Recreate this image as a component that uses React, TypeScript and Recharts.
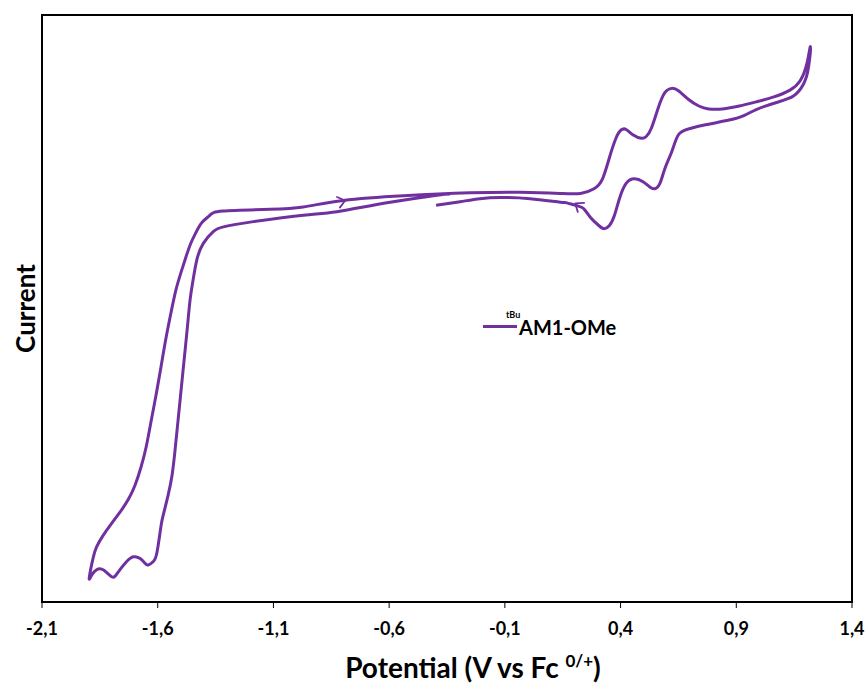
import React from 'react';
import { ComposedChart, Line, Scatter, XAxis, YAxis, ReferenceArea, Legend } from 'recharts';

const W = 866;
const H = 686;
const PURPLE = '#7030A0';
const FONT = "Lato, 'Open Sans', sans-serif";

const xTicks = [-2.1, -1.6, -1.1, -0.6, -0.1, 0.4, 0.9, 1.4];
const xTickLabels = ['-2,1', '-1,6', '-1,1', '-0,6', '-0,1', '0,4', '0,9', '1,4'];

// sweep 1: from rest potential towards negative, down to the vertex
const sweep1E = [-0.336, -0.394, -0.61, -0.826, -0.971, -1.187, -1.316, -1.36, -1.403, -1.431, -1.447, -1.46, -1.473, -1.486, -1.499, -1.512, -1.525, -1.538, -1.555, -1.573, -1.583, -1.59, -1.604, -1.619, -1.641, -1.655, -1.676, -1.705, -1.734, -1.763, -1.784, -1.799, -1.82, -1.842, -1.864, -1.885, -1.896];
const sweep1I = [69.5, 69.3, 68.0, 66.5, 65.9, 64.8, 63.9, 63.1, 61.1, 58.3, 54.9, 51.5, 46.3, 41.2, 36.1, 31.0, 25.9, 21.6, 18.2, 15.3, 13.6, 11.8, 8.3, 6.9, 6.3, 6.6, 7.4, 7.7, 6.9, 5.5, 4.4, 4.3, 5.0, 5.6, 5.5, 4.6, 3.9];

// sweep 2: back up from the negative vertex to +1.22 V
const sweep2E = [-1.89, -1.878, -1.864, -1.835, -1.799, -1.763, -1.728, -1.698, -1.672, -1.65, -1.629, -1.607, -1.586, -1.564, -1.542, -1.521, -1.499, -1.477, -1.456, -1.434, -1.408, -1.374, -1.318, -1.114, -0.971, -0.798, -0.538, -0.25, -0.034, 0.139, 0.227, 0.285, 0.322, 0.351, 0.38, 0.402, 0.424, 0.453, 0.49, 0.511, 0.533, 0.563, 0.592, 0.621, 0.65, 0.694, 0.738, 0.781, 0.84, 0.913, 0.986, 1.059, 1.132, 1.176, 1.205, 1.22];
const sweep2I = [5.5, 7.7, 9.4, 11.4, 13.4, 15.3, 17.4, 19.9, 23.0, 26.4, 30.7, 35.3, 40.0, 45.0, 49.4, 53.2, 56.2, 58.9, 61.2, 63.0, 64.7, 65.9, 66.6, 66.9, 67.3, 68.4, 69.2, 69.7, 69.8, 69.6, 69.6, 70.4, 72.1, 75.6, 79.0, 80.4, 80.5, 79.6, 79.0, 79.3, 80.7, 84.2, 86.8, 87.5, 87.1, 85.6, 84.5, 84.0, 84.0, 84.5, 85.2, 86.0, 87.2, 88.8, 91.7, 94.6];

// sweep 3: reverse from +1.22 V back to -0.4 V
const sweep3E = [1.212, 1.19, 1.147, 1.074, 0.986, 0.935, 0.869, 0.767, 0.694, 0.65, 0.621, 0.592, 0.57, 0.548, 0.526, 0.497, 0.46, 0.424, 0.395, 0.373, 0.351, 0.329, 0.307, 0.27, 0.241, 0.212, 0.168, 0.139, 0.009, -0.12, -0.207, -0.293, -0.397];
const sweep3I = [91.1, 88.2, 86.2, 85.1, 83.9, 82.9, 82.1, 81.3, 80.6, 79.6, 76.7, 73.9, 71.3, 70.4, 70.7, 71.6, 72.1, 71.3, 68.7, 65.8, 64.1, 63.6, 64.1, 65.5, 67.0, 67.5, 68.0, 68.1, 68.7, 68.9, 68.7, 68.2, 67.6];

// scan direction marks
const arrowE = [-0.79, 0.204];
const arrowI = [68.4, 67.9];
const arrowDir = [1, -1];

const cvData = [
  ...sweep1E.map((e, k) => ({ e, i: sweep1I[k] })),
  ...sweep2E.map((e, k) => ({ e, i: sweep2I[k] })),
  ...sweep3E.map((e, k) => ({ e, i: sweep3I[k] })),
];

const arrowData = arrowE.map((e, k) => ({ e, i: arrowI[k], dir: arrowDir[k] }));

const fmtTick = (v: number) => {
  const k = xTicks.findIndex((t) => Math.abs(t - v) < 1e-6);
  return k >= 0 ? xTickLabels[k] : String(v);
};

function ArrowHead(props: any) {
  const { cx, cy, payload } = props;
  if (cx == null || cy == null) return null;
  const angle = payload.dir > 0 ? -15 : 215;
  return (
    <path
      d="M -7 -5.5 L 0 0 L -7 5.5"
      transform={`translate(${cx},${cy}) rotate(${angle})`}
      fill="none"
      stroke={PURPLE}
      strokeWidth={1.8}
      strokeLinecap="round"
      strokeLinejoin="round"
    />
  );
}

// both axis titles, drawn from the x axis box (plot top is the chart's top margin)
function AxisTitles(props: any) {
  const { viewBox } = props;
  const cx = viewBox.x + viewBox.width / 2 + 26;
  const yx = viewBox.x - 17;
  const yy = (15 + viewBox.y) / 2;
  return (
    <g>
      <text x={cx} y={viewBox.y + 76} textAnchor="middle" fontFamily={FONT} fontWeight={700} fontSize={28} fill="#000">
        {'Potential (V vs Fc '}
        <tspan fontSize={17} dy={-11}>0/+</tspan>
        <tspan dy={11}>)</tspan>
      </text>
      <text
        x={yx}
        y={yy}
        transform={`rotate(-90, ${yx}, ${yy})`}
        textAnchor="middle"
        dominantBaseline="central"
        fontFamily={FONT}
        fontWeight={700}
        fontSize={26}
        fill="#000"
      >
        Current
      </text>
    </g>
  );
}

const renderLegend = () => (
  <div style={{ position: 'relative', width: 160, height: 36, fontFamily: FONT, color: '#000' }}>
    <div style={{ position: 'absolute', left: 13, top: 20, width: 34, height: 3, background: PURPLE }} />
    <span style={{ position: 'absolute', left: 36, top: 5, fontSize: 9, fontWeight: 700, lineHeight: 1 }}>tBu</span>
    <span style={{ position: 'absolute', left: 49, top: 12, fontSize: 20, fontWeight: 700, lineHeight: 1 }}>AM1-OMe</span>
  </div>
);

export default function App() {
  return (
    <div style={{ position: 'absolute', left: 0, top: 0, width: W, height: H, background: '#fff' }}>
      <ComposedChart width={W} height={H} data={cvData} margin={{ top: 15, right: 14, bottom: 0, left: 42 }}>
        <XAxis
          dataKey="e"
          type="number"
          domain={[-2.1, 1.4]}
          ticks={xTicks}
          tickFormatter={fmtTick}
          axisLine={false}
          tickLine={{ stroke: '#000', strokeWidth: 1 }}
          tickSize={6}
          tickMargin={14}
          height={84}
          tick={{ fill: '#000', fontSize: 18, fontWeight: 700, fontFamily: FONT }}
          label={<AxisTitles />}
        />
        <YAxis type="number" domain={[0, 100]} width={0} tick={false} axisLine={false} tickLine={false} />
        <ReferenceArea x1={-2.1} x2={1.4} y1={0} y2={100} fill="none" stroke="#000" strokeWidth={2} />
        <Line
          dataKey="i"
          type="natural"
          stroke={PURPLE}
          strokeWidth={3}
          dot={false}
          activeDot={false}
          isAnimationActive={false}
        />
        <Scatter data={arrowData} dataKey="i" shape={ArrowHead} isAnimationActive={false} />
        <Legend
          layout="vertical"
          align="center"
          verticalAlign="middle"
          content={renderLegend}
          wrapperStyle={{ left: 470, top: 305, width: 160, height: 36 }}
        />
      </ComposedChart>
    </div>
  );
}
